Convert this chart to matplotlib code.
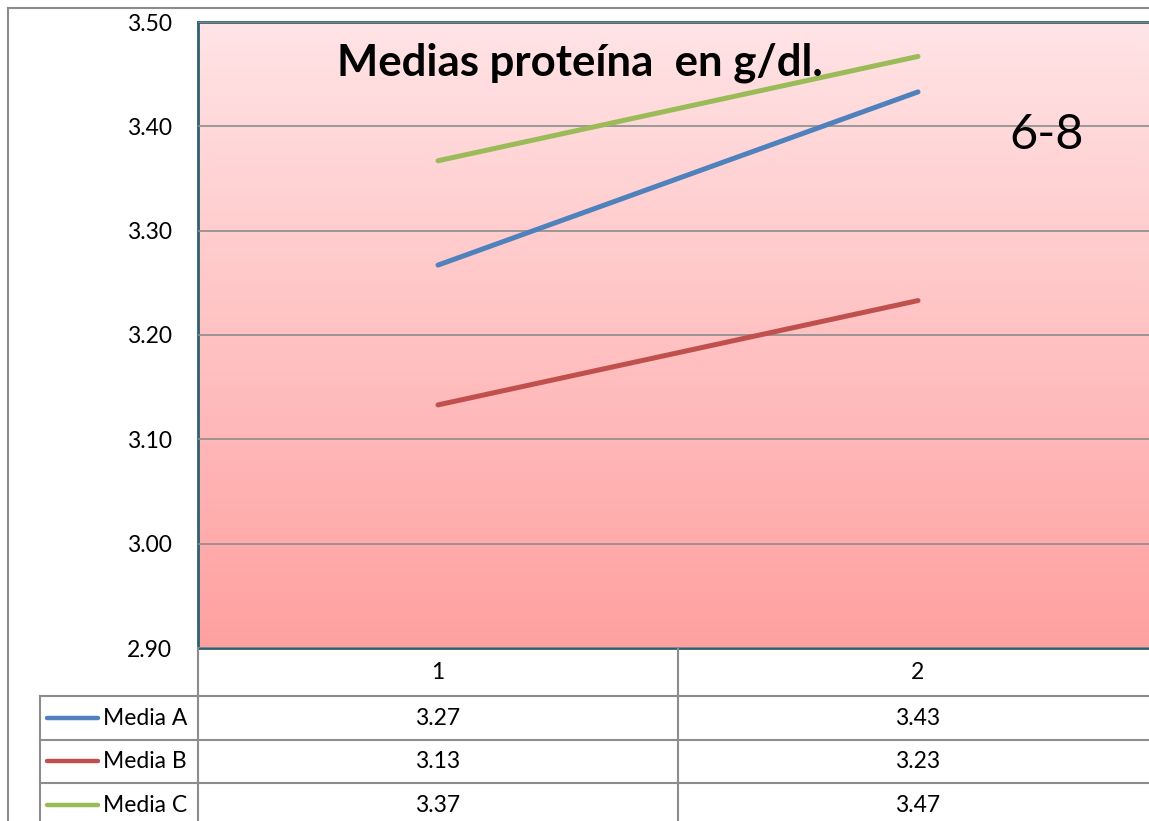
import numpy as np
import matplotlib.pyplot as plt
from matplotlib.lines import Line2D
from matplotlib.colors import LinearSegmentedColormap

categories = ["1", "2"]
series_names = ["Media A", "Media B", "Media C"]
media_a = [3.267, 3.433]
media_b = [3.133, 3.233]
media_c = [3.367, 3.467]
colors = ["#4F81BD", "#C0504D", "#9BBB59"]
yticks = [2.90, 3.00, 3.10, 3.20, 3.30, 3.40, 3.50]

plt.rcParams['font.family'] = ['Lato', 'DejaVu Sans']

W, H = 1149, 821
fig = plt.figure(figsize=(W / 100, H / 100), dpi=100)

# plot area in pixels: left 198, right 1158 (cut off), top 22, bottom 648
L, R, T, B = 198, 1158, 22, 648
ax = fig.add_axes([L / W, 1 - B / H, (R - L) / W, (B - T) / H])

# gradient background
grad = LinearSegmentedColormap.from_list("g", ["#FFA0A0", "#FFE4E6"])
ax.imshow(np.linspace(0, 1, 256).reshape(-1, 1), cmap=grad, aspect="auto",
          extent=[0, 1, 0, 1], transform=ax.transAxes, origin="lower", zorder=0)

x = np.arange(1, len(categories) + 1)
for vals, c in zip([media_a, media_b, media_c], colors):
    ax.plot(x, vals, color=c, lw=3.6, solid_capstyle="round", zorder=3)

ax.set_xlim(0.5, len(categories) + 0.5)
ax.set_ylim(2.90, 3.50)
ax.set_yticks(yticks)
ax.set_yticklabels([f"{v:.2f}" for v in yticks])
ax.yaxis.grid(True, color="#8C8C8C", lw=1.2, zorder=1)
ax.set_axisbelow(False)
ax.set_xticks([])
ax.tick_params(axis="y", length=0, labelsize=16.5, pad=19)
for s in ax.spines.values():
    s.set_color("#2E6170")
    s.set_linewidth(2)

ax.text(0.145, 0.935, "Medias proteína  en g/dl.", transform=ax.transAxes,
        fontsize=31.5, fontweight="bold", ha="left", va="center", zorder=4)
ax.text(0.845, 0.82, "6-8", transform=ax.transAxes, fontsize=35,
        ha="left", va="center", zorder=4)

# data table below the plot (figure pixel coordinates)
def fx(px):
    return px / W

def fy(py):
    return 1 - py / H

gray = "#8C8C8C"
# horizontal lines
for yl in [696, 740, 783]:
    fig.add_artist(Line2D([fx(40), fx(1149)], [fy(yl), fy(yl)], color=gray, lw=1.5))
# vertical lines
fig.add_artist(Line2D([fx(40), fx(40)], [fy(696), fy(821)], color=gray, lw=1.5))
fig.add_artist(Line2D([fx(198), fx(198)], [fy(648), fy(821)], color=gray, lw=1.5))
mid_px = L + (R - L) / len(categories)
fig.add_artist(Line2D([fx(mid_px), fx(mid_px)], [fy(648), fy(821)], color=gray, lw=1.5))

# outer chart border
fig.add_artist(Line2D([fx(8), fx(8)], [fy(8), fy(821)], color=gray, lw=1.5))
fig.add_artist(Line2D([fx(8), fx(1149)], [fy(8), fy(8)], color=gray, lw=1.5))

cat_px = [L + (R - L) * (i + 0.5) / len(categories) for i in range(len(categories))]
for cx, lab in zip(cat_px, categories):
    fig.text(fx(cx), fy(672), lab, fontsize=16.5, ha="center", va="center")

row_centers = [718, 761, 805]
for rc, name, vals, c in zip(row_centers, series_names, [media_a, media_b, media_c], colors):
    fig.add_artist(Line2D([fx(47), fx(98)], [fy(rc), fy(rc)], color=c, lw=3.2,
                          solid_capstyle="round"))
    fig.text(fx(103), fy(rc), name, fontsize=16.5, ha="left", va="center")
    for cx, v in zip(cat_px, vals):
        fig.text(fx(cx), fy(rc), f"{v:.2f}", fontsize=16.5, ha="center", va="center")

fig.savefig("out.png", dpi=100)
